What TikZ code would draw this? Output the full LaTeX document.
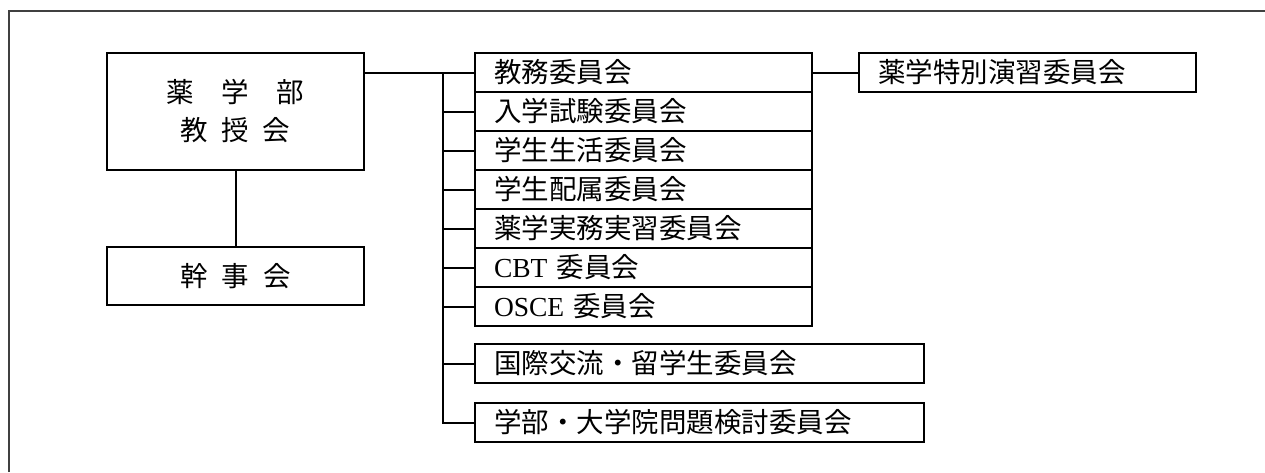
\documentclass[tikz,border=0pt]{standalone}
\usepackage{fontspec}
\setmainfont{Liberation Serif}
\newfontfamily\cjk{Noto Sans CJK JP}
\newcommand{\hs}{\hspace{0.5em}}
\begin{document}
\begin{tikzpicture}[x=1pt,y=-1pt,
  line width=2pt,
  txt/.style={font=\cjk\fontsize{27.5}{38}\selectfont},
  bigbox/.style={draw, txt, anchor=north west, minimum width=257pt, inner sep=0pt, align=center},
  rowbox/.style={draw, txt, anchor=north west, minimum height=39pt, inner xsep=19pt, inner ysep=0pt, text width=299pt, align=left},
  widebox/.style={rowbox, text width=411pt},
  link/.style={draw, line width=2pt}]
\useasboundingbox (0,0) rectangle (1265,472);
% frame (top and left edges only)
\draw[line width=2.2pt, black!75] (9,472) -- (9,11) -- (1265,11);
% left column
\node[bigbox, minimum height=117pt] (m) at (106,52) {薬　学　部\\教\hs 授\hs 会};
\node[bigbox, minimum height=58pt] (k) at (106,246) {幹\hs 事\hs 会};
% committee stack
\node[rowbox] (r1) at (474,52) {教務委員会};
\node[rowbox] (r2) at (474,91) {入学試験委員会};
\node[rowbox] (r3) at (474,130) {学生生活委員会};
\node[rowbox] (r4) at (474,169) {学生配属委員会};
\node[rowbox] (r5) at (474,208) {薬学実務実習委員会};
\node[rowbox] (r6) at (474,247) {{\rmfamily CBT} 委員会};
\node[rowbox] (r7) at (474,286) {{\rmfamily OSCE} 委員会};
\node[widebox] (r8) at (474,343) {国際交流・留学生委員会};
\node[widebox] (r9) at (474,402) {学部・大学院問題検討委員会};
\node[rowbox] (s) at (858,52) {薬学特別演習委員会};
% connectors
\coordinate (bus) at (443,0);
\draw[link] (m.south) -- (k.north);
\draw[link] (m.east |- r1.west) -- (r1.west);
\draw[link] (bus |- r1.west) -- (bus |- r9.west) -- (r9.west);
\foreach \i in {2,...,8} {\draw[link] (bus |- r\i.west) -- (r\i.west);}
\draw[link] (r1.east) -- (s.west);
\end{tikzpicture}
\end{document}
